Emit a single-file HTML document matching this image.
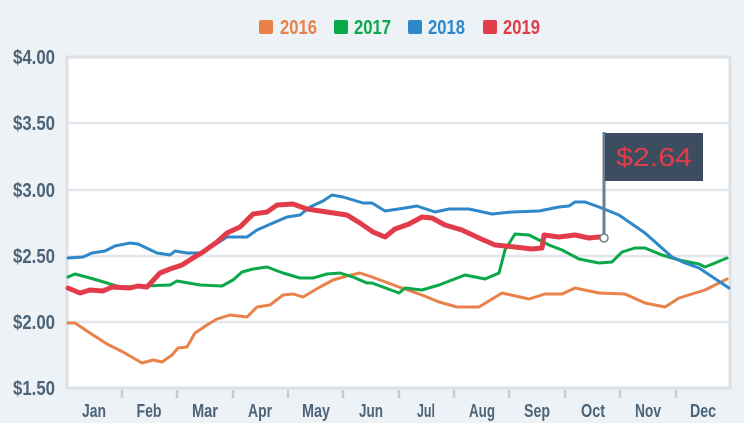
<!DOCTYPE html>
<html><head><meta charset="utf-8"><style>
html,body{margin:0;padding:0;background:#edf2f7;}
svg{display:block;}
text{font-family:"Liberation Sans",sans-serif;}
</style></head><body>
<svg width="744" height="423" viewBox="0 0 744 423" xmlns="http://www.w3.org/2000/svg">
<rect width="744" height="423" fill="#edf2f7"/>
<rect x="67" y="57" width="663" height="331" fill="#fff" stroke="#dde1e6" stroke-width="3"/>
<g stroke="#e3e6ea" stroke-width="2.5">
<line x1="67" y1="123" x2="730" y2="123"/>
<line x1="67" y1="190" x2="730" y2="190"/>
<line x1="67" y1="256" x2="730" y2="256"/>
<line x1="67" y1="322" x2="730" y2="322"/>
</g>
<g stroke="#c5ccd4" stroke-width="2.5">
<line x1="122" y1="390" x2="122" y2="398"/><line x1="177" y1="390" x2="177" y2="398"/>
<line x1="233" y1="390" x2="233" y2="398"/><line x1="288" y1="390" x2="288" y2="398"/>
<line x1="343" y1="390" x2="343" y2="398"/><line x1="399" y1="390" x2="399" y2="398"/>
<line x1="454" y1="390" x2="454" y2="398"/><line x1="509" y1="390" x2="509" y2="398"/>
<line x1="565" y1="390" x2="565" y2="398"/><line x1="620" y1="390" x2="620" y2="398"/>
<line x1="676" y1="390" x2="676" y2="398"/>
</g>
<g fill="#4d6478" font-size="20" font-weight="bold" text-anchor="end">
<text x="55" y="64" textLength="42" lengthAdjust="spacingAndGlyphs">$4.00</text>
<text x="55" y="130" textLength="42" lengthAdjust="spacingAndGlyphs">$3.50</text>
<text x="55" y="197" textLength="42" lengthAdjust="spacingAndGlyphs">$3.00</text>
<text x="55" y="263" textLength="42" lengthAdjust="spacingAndGlyphs">$2.50</text>
<text x="55" y="329" textLength="42" lengthAdjust="spacingAndGlyphs">$2.00</text>
<text x="55" y="395" textLength="42" lengthAdjust="spacingAndGlyphs">$1.50</text>
</g>
<g fill="#4d6478" font-size="18" font-weight="bold" text-anchor="middle">
<text x="94" y="417" textLength="24" lengthAdjust="spacingAndGlyphs">Jan</text><text x="149" y="417" textLength="25" lengthAdjust="spacingAndGlyphs">Feb</text><text x="205" y="417" textLength="26" lengthAdjust="spacingAndGlyphs">Mar</text>
<text x="260" y="417" textLength="24" lengthAdjust="spacingAndGlyphs">Apr</text><text x="316" y="417" textLength="28" lengthAdjust="spacingAndGlyphs">May</text><text x="371" y="417" textLength="24" lengthAdjust="spacingAndGlyphs">Jun</text>
<text x="426" y="417" textLength="18" lengthAdjust="spacingAndGlyphs">Jul</text><text x="482" y="417" textLength="26" lengthAdjust="spacingAndGlyphs">Aug</text><text x="537" y="417" textLength="26" lengthAdjust="spacingAndGlyphs">Sep</text>
<text x="593" y="417" textLength="24" lengthAdjust="spacingAndGlyphs">Oct</text><text x="648" y="417" textLength="26" lengthAdjust="spacingAndGlyphs">Nov</text><text x="703" y="417" textLength="26" lengthAdjust="spacingAndGlyphs">Dec</text>
</g>
<g font-size="20" font-weight="bold">
<rect x="259" y="20" width="14" height="14" rx="2" fill="#e8824a"/>
<text x="280" y="34" fill="#e8824a" textLength="37" lengthAdjust="spacingAndGlyphs">2016</text>
<rect x="334" y="20" width="14" height="14" rx="2" fill="#0ba84a"/>
<text x="354" y="34" fill="#0ba84a" textLength="37" lengthAdjust="spacingAndGlyphs">2017</text>
<rect x="408" y="20" width="14" height="14" rx="2" fill="#2d87c8"/>
<text x="428" y="34" fill="#2d87c8" textLength="37" lengthAdjust="spacingAndGlyphs">2018</text>
<rect x="483" y="20" width="14" height="14" rx="2" fill="#e23c4a"/>
<text x="503" y="34" fill="#e23c4a" textLength="37" lengthAdjust="spacingAndGlyphs">2019</text>
</g>
<g fill="none" stroke-linejoin="round" stroke-linecap="round">
<polyline stroke="#e8824a" stroke-width="3" points="68,323 75,323 90,333 107,344 123,352 142,363 153,360 162,362 172,355 178,348 187,347 195,333 207,325 217,319 230,315 247,317 257,307 270,305 283,295 293,294 303,297 320,287 333,280 347,276 360,273 372,277 399,287 422,295 439,302 457,307 479,307 502,293 529,299 545,294 562,294 575,288 599,293 625,294 645,303 665,307 679,298 705,290 727,279"/>
<polyline stroke="#0ba84a" stroke-width="3" points="68,277 75,274 90,278 107,283 120,287 143,286 170,285 177,281 200,285 222,286 233,280 242,272 253,269 267,267 283,273 300,278 313,278 327,274 340,273 353,277 367,283 372,283 399,293 405,288 422,290 439,285 465,275 485,279 499,273 505,250 515,234 529,235 549,245 562,250 579,259 599,263 612,262 622,252 635,248 645,248 662,255 679,260 699,264 705,267 715,263 727,258"/>
<polyline stroke="#2d87c8" stroke-width="3" points="68,258 83,257 92,253 105,251 115,246 130,243 138,244 157,253 170,255 175,251 187,253 200,253 213,246 227,237 247,237 257,230 273,223 287,217 300,215 310,207 323,201 332,195 343,197 363,203 372,203 385,211 405,208 417,206 435,212 449,209 469,209 492,214 512,212 539,211 559,207 569,206 575,202 585,202 599,207 619,215 645,233 672,257 685,263 699,268 729,288"/>
<polyline stroke="#e23c4a" stroke-width="5" points="68,288 80,293 90,290 103,291 112,287 130,288 138,286 147,287 160,273 170,269 182,265 193,258 203,252 217,242 227,233 240,227 253,214 267,212 277,205 293,204 307,209 327,212 347,215 360,223 373,232 385,237 395,229 409,224 422,217 432,218 445,225 462,230 479,238 495,245 515,247 532,249 542,248 544,235 559,237 575,235 589,238 599,237 604,238"/>
</g>
<line x1="604" y1="132" x2="604" y2="238" stroke="#6b7f92" stroke-width="3"/>
<rect x="605" y="133" width="98" height="48" fill="#3b4d5e"/>
<text x="654" y="166" text-anchor="middle" fill="#e23c4a" font-family="Liberation Mono,monospace" font-size="26" textLength="76" lengthAdjust="spacingAndGlyphs">$2.64</text>
<circle cx="604" cy="238" r="4" fill="#fff" stroke="#6b7f92" stroke-width="1.5"/>
</svg>
</body></html>
